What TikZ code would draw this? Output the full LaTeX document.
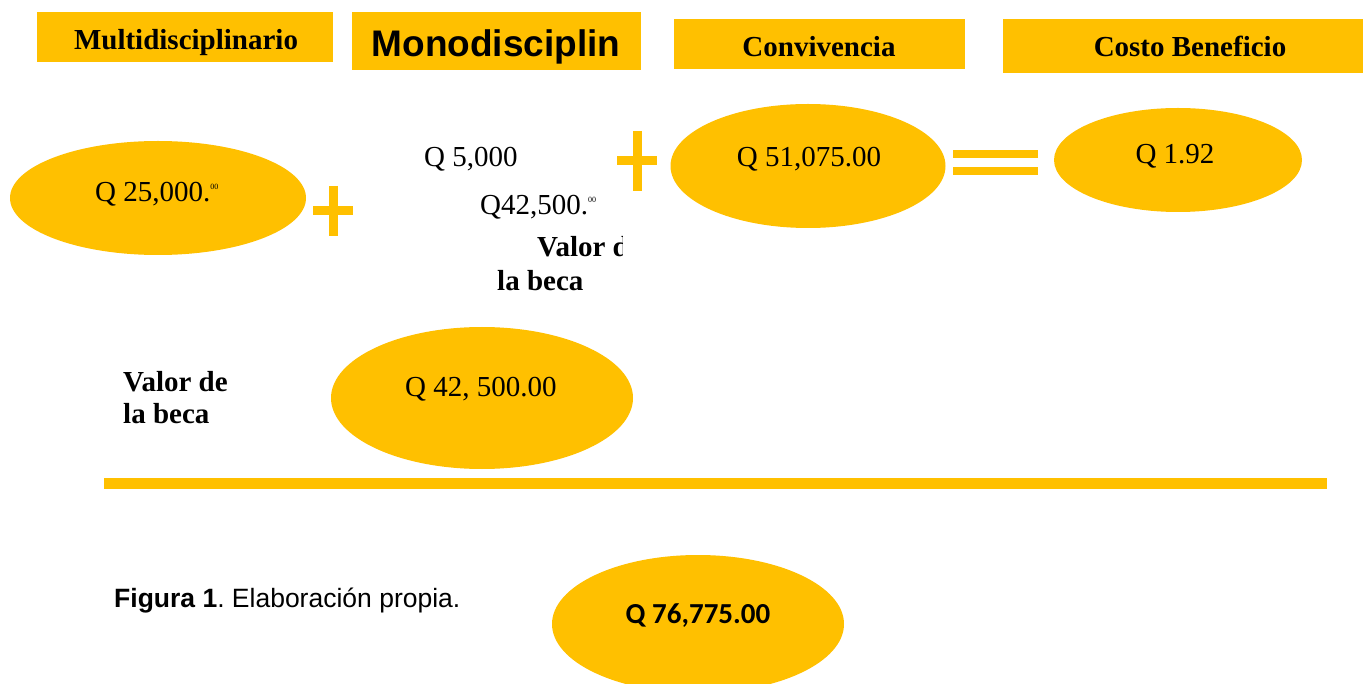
\documentclass[tikz,border=0pt]{standalone}
\usepackage{fontspec}
\setmainfont{Liberation Serif}
\newfontfamily\arialfont{Liberation Sans}
\newfontfamily\calibrifont{Carlito}
\usetikzlibrary{shapes.geometric, positioning}
\definecolor{gold}{HTML}{FFC000}
\frenchspacing
\tikzset{
x=1pt, y=-1pt, % one unit is one pixel of the layout
headbox/.style={fill=gold, anchor=north west, inner sep=0pt}, % the titles on top
headtext/.style={anchor=base, inner sep=0pt, font=\fontsize{29}{33}\selectfont\bfseries},
amount/.style={ellipse, fill=gold, inner sep=0pt}, % the yellow ovals
txt/.style={font=\fontsize{29}{33}\selectfont, inner sep=0pt}, % the sums
sign/.style={draw=gold, line width=9pt}, % plus and equal signs
}
\newcommand{\cents}{\raisebox{0.42em}{\fontsize{8}{8}\selectfont 00}}

\begin{document}
\begin{tikzpicture}
            \useasboundingbox[fill=white] (0,0) rectangle (1363,684);
            % titles
            \node[headbox, minimum width=296, minimum height=50] (multi) at (37,12) {};
            \node[headbox, minimum width=289, minimum height=58] (mono) at (352,12) {};
            \node[headbox, minimum width=291, minimum height=50] (conv) at (674,19) {};
            \node[headbox, minimum width=360, minimum height=54] (costo) at (1003,19) {};
            \node[headtext] (multitxt) at (186,50) {Multidisciplinario};
            \node[headtext, font=\arialfont\fontsize{37}{40}\selectfont\bfseries] (monotxt) at (496,57) {Monodisciplin};
            \node[headtext] (convtxt) at (819,57) {Convivencia};
            \node[headtext] (costotxt) at (1190,57) {Costo Beneficio};
            % ovals
            \node[amount, minimum width=296, minimum height=114] (oval1) at (158,198) {};
            \node[amount, minimum width=275, minimum height=124] (oval2) at (808,166) {};
            \node[amount, minimum width=248, minimum height=104] (oval3) at (1178,160) {};
            \node[amount, minimum width=302, minimum height=142] (oval4) at (482,398) {};
            \node[amount, minimum width=292, minimum height=138] (oval5) at (698,624) {};
            % sums
            \node[txt, anchor=base west] (multival) at (95,202) {Q 25,000.\cents};
            \node[txt, anchor=base west] (monoval) at (424,167) {Q 5,000};
            \node[txt, anchor=base west] (monobeca) at (480,215) {Q42,500.\cents};
            \begin{scope}
                \clip (470,225) rectangle (622,300);
                \node[txt, anchor=base west, font=\fontsize{29}{33}\selectfont\bfseries] (valor1) at (537,257) {Valor de};
            \end{scope}
            \node[txt, anchor=base west, font=\fontsize{29}{33}\selectfont\bfseries] (beca1) at (497,291) {la beca};
            \node[txt, anchor=base] (convval) at (809,167) {Q 51,075.00};
            \node[txt, anchor=base] (costoval) at (1175,164) {Q 1.92};
            \node[txt, anchor=base west, font=\fontsize{29}{33}\selectfont\bfseries] (valor2) at (123,392) {Valor de};
            \node[txt, anchor=base west, font=\fontsize{29}{33}\selectfont\bfseries] (beca2) at (123,424) {la beca};
            \node[txt, anchor=base west] (becaval) at (405,397) {Q 42, 500.00};
            \node[txt, anchor=base, font=\calibrifont\fontsize{29}{33}\selectfont\bfseries] (total) at (698,623) {Q 76,775.00};
            \node[anchor=base west, inner sep=0pt, font=\arialfont\fontsize{26.5}{30}\selectfont] (caption) at (114,607) {\textbf{Figura 1}. Elaboración propia.};
            % signs
            \foreach \px/\py/\ph in {333/211/50, 637/161/60}
                \draw[sign] (\px,{\py-\ph/2}) -- (\px,{\py+\ph/2}) ({\px-20},\py) -- ({\px+20},\py);
            \draw[draw=gold, line width=8pt] (953,154) -- (1038,154) (953,171) -- (1038,171);
            \draw[draw=gold, line width=11pt] (104,483.5) -- (1327,483.5);
        \end{tikzpicture}
\end{document}
